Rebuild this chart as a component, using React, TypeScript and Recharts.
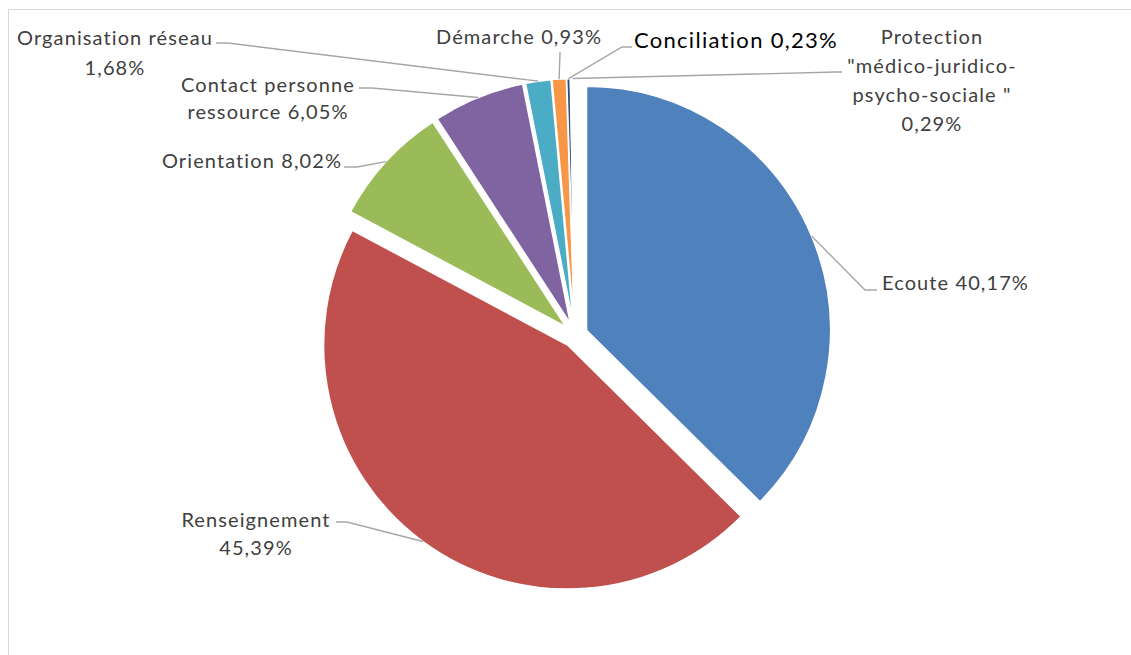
import React from "react";
import { PieChart, Pie, Cell } from "recharts";

// slices clockwise from 12 o'clock
const categories = [
  "Ecoute",
  "Renseignement",
  "Orientation",
  "Contact personne ressource",
  "Organisation réseau",
  "Démarche",
  "Conciliation",
  'Protection "médico-juridico-psycho-sociale "',
];
// slice sizes as drawn (the Ecoute slice is drawn smaller than its printed label)
const shares = [37.4, 45.39, 8.02, 6.05, 1.68, 0.93, 0.23, 0.29];
const labelText = [
  ["Ecoute 40,17%"],
  ["Renseignement", "45,39%"],
  ["Orientation 8,02%"],
  ["Contact personne", "ressource 6,05%"],
  ["Organisation réseau", "1,68%"],
  ["Démarche 0,93%"],
  ["Conciliation 0,23%"],
  ["Protection", '"médico-juridico-', 'psycho-sociale "', "0,29%"],
];
const colors = ["#4F81BD", "#C0504D", "#9BBB59", "#8064A2", "#4BACC6", "#F79646", "#2C4D75", "#FFFFFF"];

const data = categories.map((name, i) => ({ name, value: shares[i] }));

const CX = 575;
const CY = 335;
const R = 244;
const EXPLODE = 12.5;
const RAD = Math.PI / 180;

// where each label text and its leader elbow sit
const labelLayout = [
  { x: 882, y: 290, gap: 0, anchor: "start", elbow: [865, 290], attach: [877, 290] },
  { x: 256, y: 527, gap: 28, anchor: "middle", elbow: [347, 522], attach: [336, 522] },
  { x: 252, y: 168, gap: 0, anchor: "middle", elbow: [357, 167], attach: [344, 167] },
  { x: 268, y: 92, gap: 27, anchor: "middle", elbow: [372, 88], attach: [359, 88] },
  { x: 115, y: 45, gap: 30, anchor: "middle", elbow: [228, 43], attach: [216, 43] },
  { x: 519, y: 44, gap: 0, anchor: "middle", elbow: [560, 52], attach: [560, 52] },
  { x: 736, y: 48, gap: 0, anchor: "middle", elbow: [622, 47], attach: [632, 47], big: true },
  { x: 932, y: 44, gap: 29, anchor: "middle", elbow: [836, 72], attach: [842, 72] },
];

const total = shares.reduce((a, b) => a + b, 0);
let acc = 0;
const mids = shares.map((v) => {
  const m = ((acc + v / 2) / total) * 360;
  acc += v;
  return m;
});

const renderLabel = (i: number) => (p: any) => {
  if (p.index !== i) return null;
  const lay = labelLayout[i];
  const ex = p.cx + p.outerRadius * Math.cos(-p.midAngle * RAD);
  const ey = p.cy + p.outerRadius * Math.sin(-p.midAngle * RAD);
  return (
    <g>
      <polyline
        points={`${ex},${ey} ${lay.elbow[0]},${lay.elbow[1]} ${lay.attach[0]},${lay.attach[1]}`}
        fill="none"
        stroke="#A6A6A6"
        strokeWidth={1.4}
      />
      <text
        textAnchor={lay.anchor}
        fill={lay.big ? "#000000" : "#404040"}
        fontSize={lay.big ? 22 : 20}
        letterSpacing={lay.big ? 1.3 : 1.1}
        fontFamily="Lato, 'Noto Sans', sans-serif"
      >
        {labelText[i].map((line, k) => (
          <tspan key={k} x={lay.x} y={lay.y + k * lay.gap}>
            {line}
          </tspan>
        ))}
      </text>
    </g>
  );
};

export default function App() {
  return (
    <div
      style={{
        position: "absolute",
        left: 0,
        top: 0,
        width: 1131,
        height: 655,
        overflow: "hidden",
        background: "#FFFFFF",
      }}
    >
      <div
        style={{
          position: "absolute",
          left: 8,
          top: 9,
          width: 1200,
          height: 700,
          border: "1px solid #D9D9D9",
        }}
      />
      <div style={{ position: "absolute", left: 0, top: 0 }}>
        <PieChart width={1131} height={655} margin={{ top: 0, right: 0, bottom: 0, left: 0 }}>
          {data.map((_, i) => (
            <Pie
              key={i}
              data={data}
              dataKey="value"
              nameKey="name"
              cx={CX + EXPLODE * Math.sin(mids[i] * RAD)}
              cy={CY - EXPLODE * Math.cos(mids[i] * RAD)}
              outerRadius={R}
              startAngle={90}
              endAngle={-270}
              isAnimationActive={false}
              label={renderLabel(i)}
              labelLine={false}
            >
              {data.map((_, j) => (
                <Cell
                  key={j}
                  fill={j === i ? colors[j] : "none"}
                  stroke={j === i ? "#FFFFFF" : "none"}
                  strokeWidth={1.5}
                />
              ))}
            </Pie>
          ))}
        </PieChart>
      </div>
    </div>
  );
}
